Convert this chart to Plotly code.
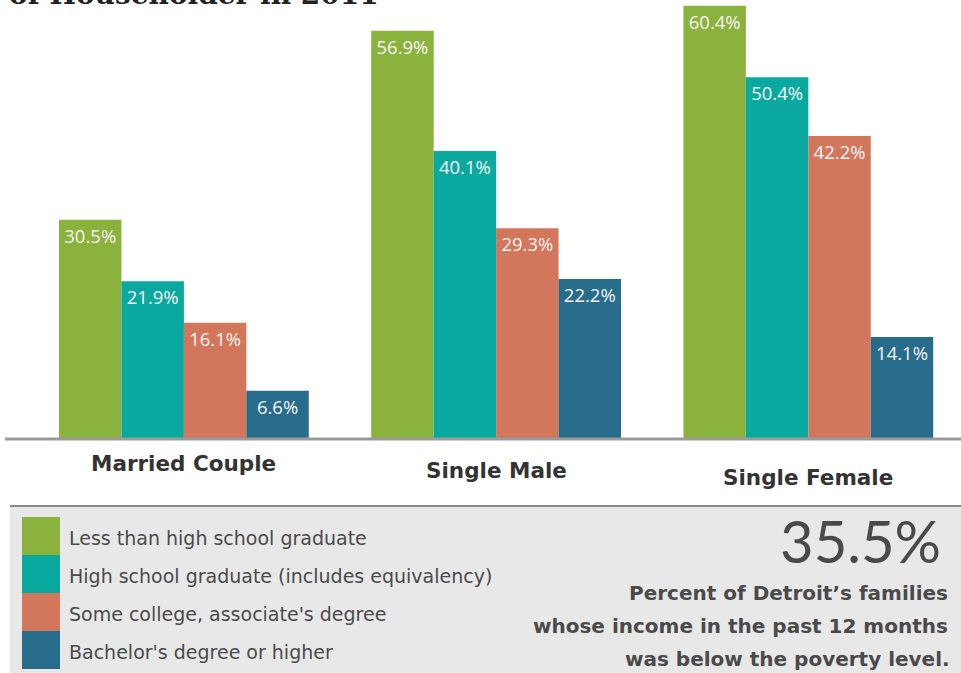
import plotly.graph_objects as go

categories = ["Married Couple", "Single Male", "Single Female"]
series_names = [
    "Less than high school graduate",
    "High school graduate (includes equivalency)",
    "Some college, associate's degree",
    "Bachelor's degree or higher",
]
less_than_hs = [30.5, 56.9, 60.4]
hs_grad = [21.9, 40.1, 50.4]
some_college = [16.1, 29.3, 42.2]
bachelors = [6.6, 22.2, 14.1]
series_values = [less_than_hs, hs_grad, some_college, bachelors]
colors = ["#8BB23D", "#0AA9A0", "#D2775B", "#286C8C"]

W, H = 961, 673
def py(px):
    return 1 - px / H
def pxx(px):
    return px / W

fig = go.Figure()
xpos = list(range(len(categories)))
for name, vals, col in zip(series_names, series_values, colors):
    fig.add_trace(go.Bar(
        x=xpos, y=vals, name=name, marker=dict(color=col, line=dict(width=0)),
        text=[f"{v:.1f}%" for v in vals], textposition="inside",
        insidetextanchor="end", textangle=0,
        textfont=dict(family="Open Sans", size=18.5, color="#F4F4F4"),
        constraintext="none", showlegend=False,
    ))

base_px = 438
fig.update_layout(
    width=W, height=H, margin=dict(l=0, r=0, t=0, b=0),
    paper_bgcolor="white", plot_bgcolor="white",
    barmode="group", bargap=0.2, bargroupgap=0,
    xaxis=dict(range=[-0.589, 2.489], showgrid=False, zeroline=False,
               showticklabels=False, domain=[0, 1]),
    yaxis=dict(range=[0, 61.2], showgrid=False, zeroline=False,
               showticklabels=False, domain=[py(base_px), 1]),
)

shapes = []
shapes.append(dict(type="line", xref="paper", yref="paper", x0=pxx(5), x1=1,
                   y0=py(base_px + 1), y1=py(base_px + 1),
                   line=dict(color="#9A9A9A", width=3)))
shapes.append(dict(type="rect", xref="paper", yref="paper", x0=pxx(10), x1=1,
                   y0=0, y1=py(506), fillcolor="#E8E8E8", line=dict(width=0),
                   layer="below"))
shapes.append(dict(type="line", xref="paper", yref="paper", x0=pxx(10), x1=1,
                   y0=py(506), y1=py(506), line=dict(color="#8A8A8A", width=2)))

annotations = []
annotations.append(dict(text="<b>of Householder in 2011</b>", xref="paper", yref="paper",
                        x=pxx(7), y=py(13), xanchor="left", yanchor="bottom",
                        showarrow=False,
                        font=dict(family="DejaVu Serif", size=28, color="#222222")))
cat_y = [463, 471, 477]
for i, (c, yy) in enumerate(zip(categories, cat_y)):
    annotations.append(dict(text=c, xref="x", yref="paper", x=i, y=py(yy),
                            xanchor="center", yanchor="middle", showarrow=False,
                            font=dict(family="DejaVu Sans", size=21.5, color="#333333",
                                      weight="bold")))
sw_top = 517
sw_h = 38
for i, (name, col) in enumerate(zip(series_names, colors)):
    y0 = sw_top + i * sw_h
    shapes.append(dict(type="rect", xref="paper", yref="paper",
                       x0=pxx(22), x1=pxx(60), y0=py(y0 + sw_h), y1=py(y0),
                       fillcolor=col, line=dict(width=0)))
    annotations.append(dict(text=name, xref="paper", yref="paper",
                            x=pxx(67), y=py(y0 + 21), xanchor="left", yanchor="middle",
                            showarrow=False,
                            font=dict(family="DejaVu Sans", size=19, color="#4A4A4A")))
annotations.append(dict(text="35.5%", xref="paper", yref="paper",
                        x=pxx(943), y=py(540), xanchor="right", yanchor="middle",
                        showarrow=False,
                        font=dict(family="Lato", size=58, color="#4A4A4A")))
stat_lines = ["Percent of Detroit’s families",
              "whose income in the past 12 months",
              "was below the poverty level."]
for line, yy, xr in zip(stat_lines, [593, 626, 659], [950, 950, 952]):
    annotations.append(dict(text=line, xref="paper", yref="paper",
                            x=pxx(xr), y=py(yy), xanchor="right", yanchor="middle",
                            showarrow=False,
                            font=dict(family="DejaVu Sans", size=20, color="#4A4A4A",
                                      weight="bold")))

fig.update_layout(shapes=shapes, annotations=annotations)
fig.write_html("out.html", config={"displayModeBar": False},
               post_script="document.body.style.margin='0';document.body.style.overflow='hidden';")
